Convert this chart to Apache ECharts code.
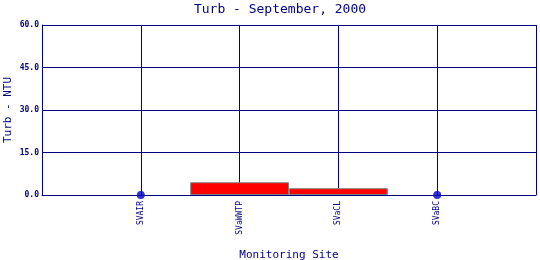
<!DOCTYPE html>
<html><head><meta charset="utf-8">
<script src="https://cdn.jsdelivr.net/npm/echarts@6/dist/echarts.min.js"></script>
<style>html,body{margin:0;padding:0;background:#fff}#c{width:540px;height:260px}</style>
</head><body><div id="c"></div>
<script>
const categories = ['', 'SVAIR', 'SVaWWTP', 'SVaCL', 'SVaBC', ''];
const barValues = ['-', '-', 4.5, 2.4, '-', '-'];
const dotValues = ['-', 0, '-', '-', 0, '-'];
const yTicks = [0, 15, 30, 45, 60];

const navy = '#000080';
const font = '"DejaVu Sans Mono", "Liberation Mono", monospace';
const chart = echarts.init(document.getElementById('c'), null, {renderer: 'canvas'});
chart.setOption({
  animation: false,
  backgroundColor: '#fff',
  title: {
    text: 'Turb - September, 2000',
    left: 280, top: 3, padding: 0, textAlign: 'center',
    textStyle: {color: navy, fontFamily: font, fontSize: 13, fontWeight: 'normal'}
  },
  grid: {left: 42, right: 4, top: 25, bottom: 65, containLabel: false, outerBoundsMode: 'none'},
  xAxis: {
    type: 'category', data: categories, boundaryGap: false,
    name: 'Monitoring Site', nameLocation: 'middle', nameGap: 55, nameMoveOverlap: false,
    nameTextStyle: {color: navy, fontFamily: font, fontSize: 11},
    axisLine: {show: true, lineStyle: {color: navy, width: 1}},
    axisTick: {show: false},
    axisLabel: {rotate: 90, color: navy, fontFamily: font, fontSize: 8, margin: 6, interval: 0},
    splitLine: {show: true, lineStyle: {color: navy, width: 1}}
  },
  yAxis: {
    type: 'value', min: 0, max: 60, interval: 15,
    name: 'Turb - NTU', nameLocation: 'middle', nameGap: 28, nameMoveOverlap: false,
    nameTextStyle: {color: navy, fontFamily: font, fontSize: 11},
    axisLine: {show: true, lineStyle: {color: navy, width: 1}},
    axisTick: {show: false},
    axisLabel: {color: navy, fontFamily: font, fontSize: 8, fontWeight: 'bold', margin: 3,
      formatter: v => yTicks.includes(v) ? v.toFixed(1) : ''},
    splitLine: {show: true, lineStyle: {color: navy, width: 1}}
  },
  series: [
    {type: 'bar', data: barValues, barWidth: '100%', barGap: '-100%',
     itemStyle: {color: '#ff0000', borderColor: '#808080', borderWidth: 1}},
    {type: 'scatter', data: dotValues, symbol: 'circle', symbolSize: 8,
     itemStyle: {color: '#0000cc'}, z: 5}
  ]
});
</script></body></html>
